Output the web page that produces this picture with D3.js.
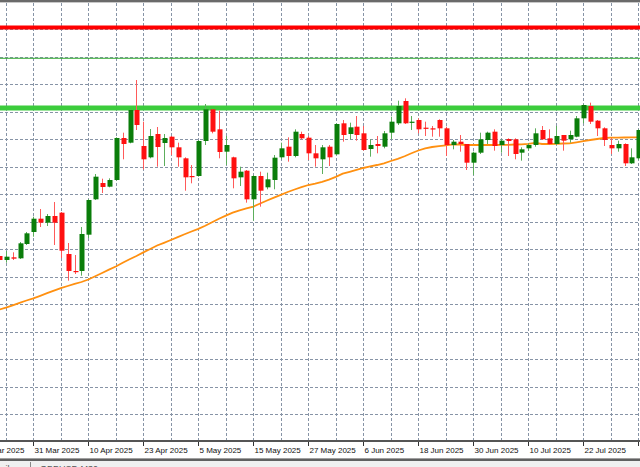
<!DOCTYPE html>
<html>
<head>
<meta charset="utf-8">
<script src="https://cdn.jsdelivr.net/npm/d3@7"></script>
<style>
  html, body { margin: 0; padding: 0; background: #fff; }
  svg { display: block; font-family: "Liberation Sans", Arial, sans-serif; }
</style>
</head>
<body>
<svg id="chart" width="640" height="467"></svg>
<script>
// daily candles, index 0 = 31 Mar 2025
const idx = d3.range(-5, 89);
const opens = [3060, 3050, 3056.7, 3054.2, 3090, 3120, 3153.3, 3143.3, 3160, 3168.3,
  3065, 3022.5, 3022.5, 3113.3, 3201.7, 3242.5, 3233.3, 3250, 3355, 3343.3,
  3425, 3335, 3306.7, 3365, 3342.5, 3358.3, 3331.7, 3304.2, 3260, 3260,
  3347.5, 3426.7, 3376.7, 3320.8, 3306.7, 3256.7, 3273.3, 3201.7, 3260, 3231.7,
  3250, 3306.7, 3333.3, 3310, 3365, 3355.8, 3316.7, 3301.7, 3333.3, 3314.2,
  3391.7, 3365, 3383.3, 3366.7, 3327.5, 3340, 3333.3, 3368.3, 3391.7, 3447.5,
  3393.3, 3400, 3380.8, 3379.2, 3400, 3379.2, 3337.5, 3345.8, 3340, 3293.3,
  3318.3, 3350, 3370.8, 3337.5, 3352.5, 3351.7, 3318.3, 3329.2, 3337.5, 3375,
  3354.2, 3340, 3362.5, 3351.7, 3358.3, 3404.2, 3435, 3398.3, 3379.2, 3337.5,
  3329.2, 3340, 3291.7, 3304.2];
const highs = [3065, 3072.5, 3069.2, 3095, 3120, 3158.3, 3177.5, 3165, 3195, 3170,
  3092.5, 3062.5, 3132.5, 3202.5, 3265, 3253.3, 3254.2, 3356.7, 3368.3, 3426.7,
  3500, 3395.8, 3377.5, 3382.5, 3365, 3360, 3343.3, 3306.7, 3287.5, 3350,
  3440, 3426.7, 3423.3, 3360, 3308.3, 3283.3, 3275, 3262.5, 3270.8, 3268.3,
  3312.5, 3343.3, 3356.7, 3376.7, 3370.8, 3360, 3337.5, 3337.5, 3337.5, 3391.7,
  3400, 3393.3, 3410, 3385, 3351.7, 3360, 3372.5, 3408.3, 3448.3, 3454.2,
  3410, 3404.2, 3395.8, 3385, 3401.7, 3383.3, 3350, 3362.5, 3340, 3320.8,
  3368.3, 3370.8, 3376.7, 3351.7, 3354.2, 3354.2, 3331.7, 3341.7, 3379.2, 3385,
  3376.7, 3385, 3362.5, 3373.3, 3410, 3439.2, 3443.3, 3400, 3381.7, 3354.2,
  3348.3, 3341.7, 3329.2, 3376.7];
const lows = [3045, 3043.3, 3050, 3052.5, 3087.5, 3108.3, 3132.5, 3135, 3087.5, 3055,
  2998.3, 3015, 3010.8, 3105, 3200, 3217.5, 3231.7, 3248.3, 3301.7, 3341.7,
  3375, 3276.7, 3304.2, 3283.3, 3285, 3312.5, 3283.3, 3223.3, 3241.7, 3258.3,
  3337.5, 3366.7, 3304.2, 3287.5, 3229.2, 3235, 3193.3, 3148.3, 3183.3, 3226.7,
  3226.7, 3301.7, 3295.8, 3306.7, 3351.7, 3300, 3283.3, 3265, 3285, 3312.5,
  3345.8, 3351.7, 3348.3, 3323.3, 3308.3, 3316.7, 3329.2, 3351.7, 3387.5, 3390,
  3375, 3366.7, 3360, 3358.3, 3358.3, 3310, 3326.7, 3320.8, 3275, 3262.5,
  3315, 3340, 3323.3, 3318.3, 3310, 3301.7, 3298.3, 3323.3, 3333.3, 3350,
  3337.5, 3337.5, 3323.3, 3343.3, 3356.7, 3391.7, 3390, 3360, 3335, 3315,
  3320.8, 3285, 3290, 3300];
const closes = [3050, 3058.3, 3053.3, 3091.7, 3116.7, 3153.3, 3143.3, 3160, 3143.3, 3073.3,
  3022.5, 3020, 3115, 3200, 3258.3, 3232.5, 3250, 3355, 3340, 3425,
  3387.5, 3301.7, 3360, 3332.5, 3355, 3331.7, 3306.7, 3256.7, 3257.5, 3347.5,
  3426.7, 3370.8, 3320, 3337.5, 3254.2, 3270.8, 3201.7, 3260, 3223.3, 3251.7,
  3305.8, 3329.2, 3310, 3370.8, 3354.2, 3316.7, 3304.2, 3331.7, 3306.7, 3390,
  3362.5, 3381.7, 3362.5, 3325, 3337.5, 3335, 3366.7, 3395.8, 3435, 3391.7,
  3395.8, 3376.7, 3379.2, 3377.5, 3379.2, 3337.5, 3345.8, 3340, 3293.3, 3318.3,
  3351.7, 3368.3, 3335, 3348.3, 3347.5, 3315, 3326.7, 3337.5, 3366.7, 3351.7,
  3340, 3360, 3348.3, 3362.5, 3404.2, 3437.5, 3395.8, 3379.2, 3350, 3329.2,
  3340, 3291.7, 3306.7, 3375];
// moving average (orange) per candle
const maValues = [2925.8, 2930.8, 2936.8, 2943, 2948.8, 2954.3, 2960.5, 2967, 2973.5, 2979.5,
  2985, 2990.5, 2995, 3001.3, 3009.3, 3017.5, 3025.8, 3033.8, 3043, 3052,
  3060, 3069, 3077.5, 3086.3, 3093, 3100, 3107, 3114.3, 3121.3, 3128,
  3135.5, 3144.3, 3153, 3161, 3168.5, 3174.3, 3178.8, 3183.5, 3191.3, 3198.8,
  3206, 3213, 3220, 3226.3, 3232, 3237.5, 3241, 3245.5, 3250.8, 3258,
  3265.8, 3270.5, 3275.5, 3280, 3283.8, 3287.5, 3291.8, 3297.5, 3303, 3309.3,
  3316.8, 3323.8, 3329.3, 3332.5, 3334.5, 3336.3, 3339, 3338.8, 3337.5, 3337.5,
  3337.5, 3337.5, 3337.5, 3338, 3338, 3338.8, 3339.3, 3340.5, 3343, 3340,
  3340, 3340.5, 3341.3, 3341.8, 3344.3, 3347, 3350, 3352.5, 3355, 3355.8,
  3356, 3356.3, 3356.5, 3356.8];
// horizontal levels
const levelPrices = [3631.3, 3554.3, 3430];
const levelColors = ["#ff0000", "#2ea82e", "#3ccc3c"];
const levelWidths = [4, 1, 5];
// date labels every 8th candle
const tickIdx = [-8, 0, 8, 16, 24, 32, 40, 48, 56, 64, 72, 80, 88];
const tickLabels = ["19 Mar 2025", "31 Mar 2025", "10 Apr 2025", "23 Apr 2025", "5 May 2025",
  "15 May 2025", "27 May 2025", "6 Jun 2025", "18 Jun 2025", "30 Jun 2025",
  "10 Jul 2025", "22 Jul 2025", "1 Aug 2025"];

const W = 640, H = 467, plotTop = 3, plotBottom = 440;
const svg = d3.select("#chart");

const x = d3.scaleLinear().domain([0, 88]).range([33.33, 638.33]);
const y = d3.scaleLinear().domain([2600, 3692.5]).range([440, 3]);

const candles = idx.map((i, k) => ({ i, o: opens[k], h: highs[k], l: lows[k], c: closes[k] }));

svg.append("rect").attr("width", W).attr("height", H).attr("fill", "#fff");

// grid (screen based, like the terminal)
const grid = svg.append("g");
const gx = d3.range(-4, 92, 4);
grid.selectAll("line.v").data(gx).enter().append("line")
  .attr("x1", d => Math.round(x(d)) + 0.5).attr("x2", d => Math.round(x(d)) + 0.5)
  .attr("y1", plotTop).attr("y2", plotBottom)
  .attr("stroke", "#8794a6").attr("stroke-dasharray", "3,2");
const gy = d3.range(1, 16).map(k => 1.7 + k * 27.5);
grid.selectAll("line.h").data(gy).enter().append("line")
  .attr("x1", 0).attr("x2", W)
  .attr("y1", d => Math.round(d) + 0.5).attr("y2", d => Math.round(d) + 0.5)
  .attr("stroke", "#8794a6").attr("stroke-dasharray", "3,2");

// level lines
svg.append("g").selectAll("line").data(levelPrices).enter().append("line")
  .attr("x1", 0).attr("x2", W)
  .attr("y1", d => y(d)).attr("y2", d => y(d))
  .attr("stroke", (d, k) => levelColors[k])
  .attr("stroke-width", (d, k) => levelWidths[k]);

// moving average
const line = d3.line().x((d, k) => x(idx[k])).y(d => y(d));
svg.append("path").attr("d", line(maValues))
  .attr("fill", "none").attr("stroke", "#ff9010").attr("stroke-width", 1.8);

// candles
const cg = svg.append("g").selectAll("g").data(candles).enter().append("g");
cg.append("line")
  .attr("x1", d => Math.round(x(d.i)) + 0.5).attr("x2", d => Math.round(x(d.i)) + 0.5)
  .attr("y1", d => y(d.h)).attr("y2", d => y(d.l))
  .attr("stroke", d => d.c >= d.o ? "#5cae5c" : "#ff5a5a");
cg.append("rect")
  .attr("x", d => Math.round(x(d.i)) - 1.5)
  .attr("width", 5)
  .attr("y", d => y(Math.max(d.o, d.c)))
  .attr("height", d => Math.max(1.2, y(Math.min(d.o, d.c)) - y(Math.max(d.o, d.c))))
  .attr("fill", d => d.c >= d.o ? "#0a7d0a" : "#ff1010");

// top border
svg.append("rect").attr("x", 0).attr("y", 0).attr("width", W).attr("height", 2).attr("fill", "#6a6a6a");
svg.append("rect").attr("x", 0).attr("y", 2).attr("width", W).attr("height", 1).attr("fill", "#c8c8c8");

// time axis
const axis = svg.append("g");
axis.append("rect").attr("x", 0).attr("y", plotBottom).attr("width", W).attr("height", 2).attr("fill", "#555");
const ticks = axis.selectAll("g.t").data(tickIdx).enter().append("g")
  .attr("transform", d => `translate(${Math.round(x(d)) + 0.5},0)`);
ticks.append("line").attr("y1", plotBottom + 2).attr("y2", plotBottom + 6).attr("stroke", "#333");
ticks.append("text").attr("x", 1).attr("y", 453)
  .attr("font-size", "8px").attr("fill", "#111")
  .text((d, k) => tickLabels[k]);

// bottom tab strip
svg.append("rect").attr("x", 0).attr("y", 458).attr("width", W).attr("height", 1).attr("fill", "#a0a0a0");
svg.append("rect").attr("x", 0).attr("y", 459).attr("width", W).attr("height", 2).attr("fill", "#606060");
svg.append("rect").attr("x", 0).attr("y", 461).attr("width", W).attr("height", 6).attr("fill", "#f0f0f0");
svg.append("line").attr("x1", 30.5).attr("x2", 30.5).attr("y1", 462).attr("y2", 467).attr("stroke", "#888");
svg.append("text").attr("x", 14).attr("y", 472).attr("text-anchor", "end")
  .attr("font-size", "9px").attr("fill", "#555").text("ld,Daily");
svg.append("text").attr("x", 40).attr("y", 472)
  .attr("font-size", "9px").attr("fill", "#555").text("GBPUSD,M30");
</script>
</body>
</html>
